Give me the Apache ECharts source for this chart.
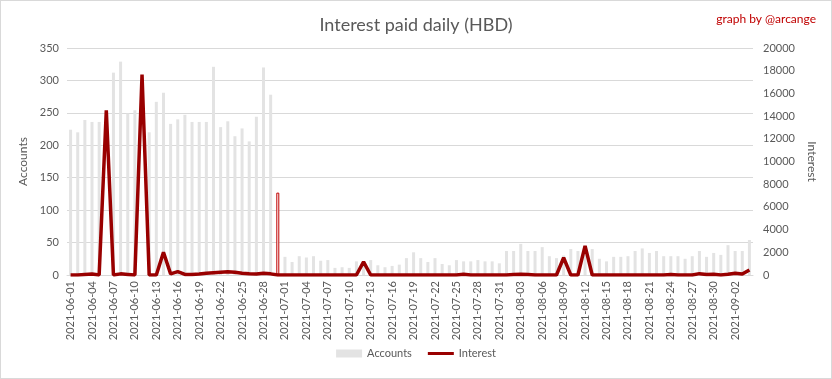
<!DOCTYPE html>
<html><head><meta charset="utf-8">
<script src="https://cdn.jsdelivr.net/npm/echarts@6/dist/echarts.min.js"></script>
<style>
html,body{margin:0;padding:0;background:#fff;}
#c{position:absolute;left:0;top:0;width:830px;height:377px;border:1px solid #d9d9d9;}
</style></head><body><div id="c"></div>
<script>
function days(){var out=[];var d=new Date(Date.UTC(2021,5,1));for(var i=0;i<96;i++){out.push(d.toISOString().slice(0,10));d.setUTCDate(d.getUTCDate()+1);}return out;}
var categories = days();
var accounts = [
224,220,239,236,236,0,312,329,249,254,0,220,267,281,233,240,247,236,236,236,321,228,237,214,226,206,244,320,278,127,
28,20,29,27,29,22,23,11,12,11,21,15,23,15,12,14,16,26,35,26,20,26,17,15,23,21,21,23,21,21,18,
37,37,48,37,37,43,29,26,30,40,37,45,40,25,21,28,28,29,37,41,34,37,29,29,29,25,29,37,28,34,31,
46,37,37,54];
var interest = [
0,0,50,80,0,14500,0,100,50,0,17650,0,0,2000,100,300,50,50,80,150,200,250,280,250,150,100,80,150,100,0,
0,0,0,0,0,0,0,0,0,0,0,1150,0,0,0,0,0,0,0,0,0,0,0,0,0,60,0,0,0,0,0,
0,50,60,50,0,0,0,0,1520,0,0,2570,0,0,0,0,0,0,0,0,0,0,0,50,0,0,0,120,50,60,0,
60,150,80,450];
var highlightIndex = 29;
var barData = accounts.map(function(v,i){
  if(i===highlightIndex) return {value:v,itemStyle:{color:'#ffffff',borderColor:'#c00000',borderWidth:1}};
  return v;
});
var font = 'Lato, "Open Sans", sans-serif';
var chart = echarts.init(document.getElementById('c'));
chart.setOption({
  animation:false,
  textStyle:{fontFamily:font},
  title:[{text:'Interest paid daily (HBD)',left:'center',top:10,textStyle:{fontFamily:font,fontSize:18,fontWeight:'normal',color:'#595959'}},
         {text:'graph by @arcange',right:10,top:7,textStyle:{fontFamily:font,fontSize:12,fontWeight:'normal',color:'#c00000'}}],
  grid:{left:66,right:78,top:47,bottom:103},
  legend:{bottom:14,left:'center',itemGap:16,itemWidth:26,itemHeight:8,textStyle:{color:'#595959',fontSize:11,fontFamily:font},
    data:[{name:'Accounts',icon:'rect'},{name:'Interest',icon:'path://M0,3.5L26,3.5L26,6.5L0,6.5Z'}]},
  xAxis:{type:'category',data:categories,boundaryGap:true,
    axisLine:{lineStyle:{color:'#d9d9d9'}},axisTick:{show:false},
    axisLabel:{interval:2,rotate:90,color:'#595959',fontSize:11,margin:6}},
  yAxis:[{type:'value',min:0,max:350,interval:50,name:'Accounts',nameLocation:'middle',nameGap:36,
      nameTextStyle:{color:'#595959',fontSize:12},
      axisLabel:{color:'#595959',fontSize:11,margin:8},axisLine:{show:false},axisTick:{show:false},
      splitLine:{lineStyle:{color:'#d9d9d9'}}},
    {type:'value',min:0,max:20000,interval:2000,name:'Interest',nameLocation:'middle',nameGap:46,nameRotate:-90,
      nameTextStyle:{color:'#595959',fontSize:12},
      axisLabel:{color:'#595959',fontSize:11,margin:10,formatter:function(v){return String(v);}},axisLine:{show:false},axisTick:{show:false},splitLine:{show:false}}],
  series:[
    {name:'Accounts',type:'bar',data:barData,barWidth:3,itemStyle:{color:'#e3e3e3'},yAxisIndex:0},
    {name:'Interest',type:'line',data:interest,yAxisIndex:1,symbol:'none',lineStyle:{color:'#990000',width:3.5},itemStyle:{color:'#990000'}}
  ]
});
</script></body></html>
